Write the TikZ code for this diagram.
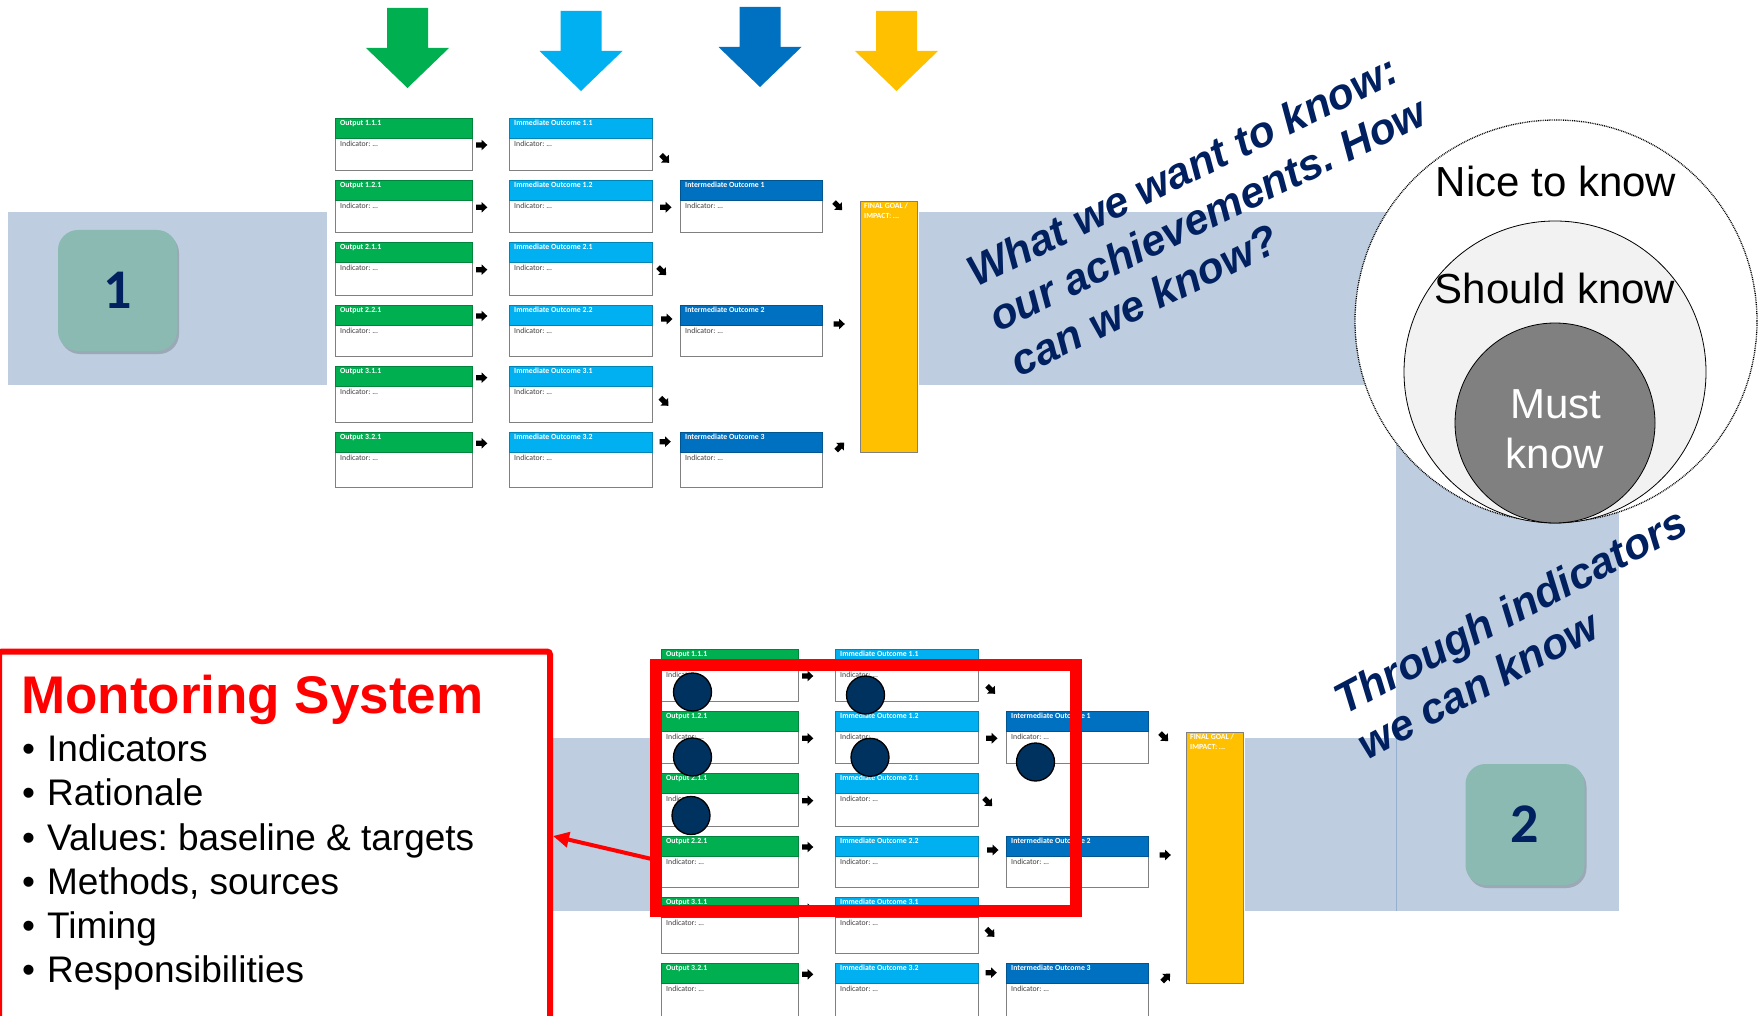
\documentclass[tikz,border=0pt]{standalone}
\usepackage{fontspec}
\setmainfont{Liberation Sans}
\newfontfamily\calfont{Carlito}
\usetikzlibrary{arrows.meta,shadows}
\definecolor{ogreen}{HTML}{00B050}
\definecolor{olblue}{HTML}{00B0F0}
\definecolor{odblue}{HTML}{0070C0}
\definecolor{oyellow}{HTML}{FFC000}
\definecolor{navy}{HTML}{002060}
\definecolor{band}{RGB}{190,205,223}
\definecolor{bandline}{RGB}{150,175,205}
\definecolor{tealbox}{RGB}{138,186,178}
\definecolor{dotnavy}{RGB}{0,50,96}
\definecolor{boxgray}{RGB}{128,128,128}
\definecolor{midgray}{RGB}{242,242,242}
\definecolor{inngray}{RGB}{128,128,128}
\tikzset{
 bbody/.style={draw=boxgray, line width=0.8pt, fill=white, inner sep=0pt, outer sep=0pt},
 bhead/.style={inner sep=0pt, outer sep=0pt, minimum height=20pt, line width=0.6pt},
 htext/.style={font=\calfont\bfseries\fontsize{7.8}{9}\selectfont, text=white, inner sep=0pt},
 itext/.style={font=\calfont\fontsize{7.8}{9}\selectfont, text=black!75, inner sep=0pt},
 numbox/.style={fill=tealbox, rounded corners=20pt, minimum width=119pt, minimum height=121pt, inner sep=0pt,
   font=\calfont\bfseries\fontsize{56}{60}\selectfont, text=navy,
   drop shadow={shadow xshift=2pt, shadow yshift=-3pt, opacity=0.18, fill=black}},
 rtext/.style={font=\bfseries\itshape\fontsize{43}{50}\selectfont, text=navy, inner sep=0pt, anchor=base west},
 ctext/.style={font=\fontsize{42}{49}\selectfont, inner sep=0pt, anchor=base},
 bul/.style={font=\fontsize{37}{44}\selectfont, inner sep=0pt, anchor=base west},
 dotc/.style={circle, fill=dotnavy, draw=black, line width=1.3pt, minimum size=38pt, inner sep=0pt},
}
\newcommand\lbox[7]{%
 \node[bbody, minimum width=#4pt, minimum height=#5pt, anchor=north west] (#1) at (#2,#3) {};
 \node[bhead, fill=#6, draw=#6!75!black, minimum width=#4pt, anchor=north west] (#1h) at (#2,#3) {};
 \node[htext, anchor=base west] (#1t) at (#2+5,#3+7.7) {#7};
 \node[itext, anchor=base west] (#1i) at (#2+5,#3+28.5) {Indicator: ...};
}
\newcommand\sarr[3]{\fill[shift={(#1,#2)}, rotate=#3] (-5.5,-2.6) -- (0,-2.6) -- (0,-5.4) -- (5.8,0) -- (0,5.4) -- (0,2.6) -- (-5.5,2.6) -- cycle;}
\newcommand\bigarr[3]{\fill[#3] (#1-20.5,#2) -- (#1+20.5,#2) -- (#1+20.5,#2+40) -- (#1+41.5,#2+40) -- (#1,#2+80) -- (#1-41.5,#2+40) -- (#1-20.5,#2+40) -- cycle;}
\newcommand\chart[3]{%
\begin{scope}[shift={(#2,#3)}]
 \lbox{#1o1}{335}{118}{137}{52}{ogreen}{Output 1.1.1}
 \lbox{#1o2}{335}{180}{137}{52}{ogreen}{Output 1.2.1}
 \lbox{#1o3}{335}{242}{137}{53}{ogreen}{Output 2.1.1}
 \lbox{#1o4}{335}{305}{137}{51}{ogreen}{Output 2.2.1}
 \lbox{#1o5}{335}{366}{137}{56}{ogreen}{Output 3.1.1}
 \lbox{#1o6}{335}{432}{137}{55}{ogreen}{Output 3.2.1}
 \lbox{#1i1}{509}{118}{143}{52}{olblue}{Immediate Outcome 1.1}
 \lbox{#1i2}{509}{180}{143}{52}{olblue}{Immediate Outcome 1.2}
 \lbox{#1i3}{509}{242}{143}{53}{olblue}{Immediate Outcome 2.1}
 \lbox{#1i4}{509}{305}{143}{51}{olblue}{Immediate Outcome 2.2}
 \lbox{#1i5}{509}{366}{143}{56}{olblue}{Immediate Outcome 3.1}
 \lbox{#1i6}{509}{432}{143}{55}{olblue}{Immediate Outcome 3.2}
 \lbox{#1n1}{680}{180}{142}{52}{odblue}{Intermediate Outcome 1}
 \lbox{#1n2}{680}{305}{142}{51}{odblue}{Intermediate Outcome 2}
 \lbox{#1n3}{680}{432}{142}{55}{odblue}{Intermediate Outcome 3}
 \node[draw=boxgray, line width=0.8pt, fill=oyellow, minimum width=57pt, minimum height=251pt, anchor=north west, inner sep=0pt, outer sep=0pt] (#1f) at (860,201) {};
 \node[htext, anchor=base west] (#1ft) at (864,208.5) {FINAL GOAL /};
 \node[htext, anchor=base west] (#1fu) at (864,218.5) {IMPACT: ...};
 \sarr{481.5}{145}{0} \sarr{481.5}{207.3}{0} \sarr{481.5}{269.7}{0}
 \sarr{481.5}{316}{0} \sarr{481.5}{377.7}{0} \sarr{481.5}{443.3}{0}
 \sarr{665}{158.7}{-45} \sarr{665.7}{207.3}{0} \sarr{662}{271}{-45}
 \sarr{666.7}{319}{0} \sarr{664.3}{401.7}{-45} \sarr{665}{441.7}{0}
 \sarr{838}{206}{-45} \sarr{839}{324}{0} \sarr{840}{446.7}{45}
\end{scope}}
\begin{document}
\frenchspacing
\begin{tikzpicture}[x=1pt, y=-1pt]
\useasboundingbox (0,0) rectangle (1758,1016);
\clip (0,0) rectangle (1758,1016);
\fill[white] (0,0) rectangle (1758,1016);
% bands
\fill[band] (8,212) rectangle (327,385);
\fill[band] (919,212) rectangle (1619,385);
\fill[band] (1396,212) rectangle (1619,911);
\fill[band] (334,738) rectangle (653,911);
\fill[band] (1245,738) rectangle (1396,911);
\draw[bandline, line width=0.8pt] (1396,738) -- (1396,911);
% big arrows
\bigarr{407.5}{8}{ogreen}
\bigarr{581}{11}{olblue}
\bigarr{760}{7}{odblue}
\bigarr{896.5}{11}{oyellow}
% charts
\chart{a}{0}{0}
\chart{b}{326}{531}
% circles
\node[circle, fill=white, draw=black, line width=1.3pt, dash pattern=on 0.9pt off 0.9pt, minimum size=402pt, inner sep=0pt] (cn) at (1556,321) {};
\node[circle, fill=midgray, draw=black, line width=0.8pt, minimum size=302pt, inner sep=0pt] (cs) at (1555,372) {};
\node[circle, fill=inngray, draw=black, line width=0.8pt, minimum size=200pt, inner sep=0pt] (cm) at (1555,423) {};
\node[ctext] (tn) at (1556,197) {Nice to know};
\node[ctext] (ts) at (1555,303.3) {Should know};
\node[ctext, text=white] (tm1) at (1555.5,418.3) {Must};
\node[ctext, text=white] (tm2) at (1555,468.3) {know};
% rotated texts
\node[rtext, rotate=26] (w1) at (976,288) {What we want to know:};
\node[rtext, rotate=26] (w2) at (997.9,333) {our achievements. How};
\node[rtext, rotate=26] (w3) at (1019.8,378) {can we know?};
\node[rtext, rotate=28] (t1) at (1344,716) {Through indicators};
\node[rtext, rotate=28] (t2) at (1367.5,760.1) {we can know};
% number boxes
\node[numbox] (n1) at (117.5,290.5) {1};
\node[numbox] (n2) at (1525,824.5) {2};
% monitoring box
\node[draw=red, line width=6pt, fill=white, rounded corners=3pt, minimum width=551pt, minimum height=378.5pt, inner sep=0pt, outer sep=0pt, anchor=north west] (mon) at (-1,651.5) {};
\node[font=\bfseries\fontsize{53}{60}\selectfont, text=red, inner sep=0pt, anchor=base west] (mtitle) at (21,713) {Montoring System};
\foreach \t [count=\i] in {Indicators, Rationale, {Values: baseline \& targets}, {Methods, sources}, Timing, Responsibilities}
  \node[bul] (bl\i) at (22, 717.45+44.25*\i) {\makebox[25pt][l]{\textbullet}\t};
% dark circles
\node[dotc] (d1) at (692.5,692) {};
\node[dotc] (d2) at (865.5,695) {};
\node[dotc] (d3) at (692.5,757) {};
\node[dotc] (d4) at (870,757.3) {};
\node[dotc] (d5) at (1035.5,762) {};
\node[dotc] (d6) at (691,815.5) {};
% red arrow and frame
\node[draw=red, line width=12pt, minimum width=420pt, minimum height=246pt, inner sep=0pt, outer sep=0pt] (rr) at (866,788) {};
\coordinate (atail) at ([yshift=-72pt]rr.west);
\coordinate (ahead) at ([xshift=3pt,yshift=4.75pt]mon.east);
\draw[red, line width=4pt, -{Triangle[length=16pt,width=15pt]}] (atail) -- (ahead);
\end{tikzpicture}
\end{document}
